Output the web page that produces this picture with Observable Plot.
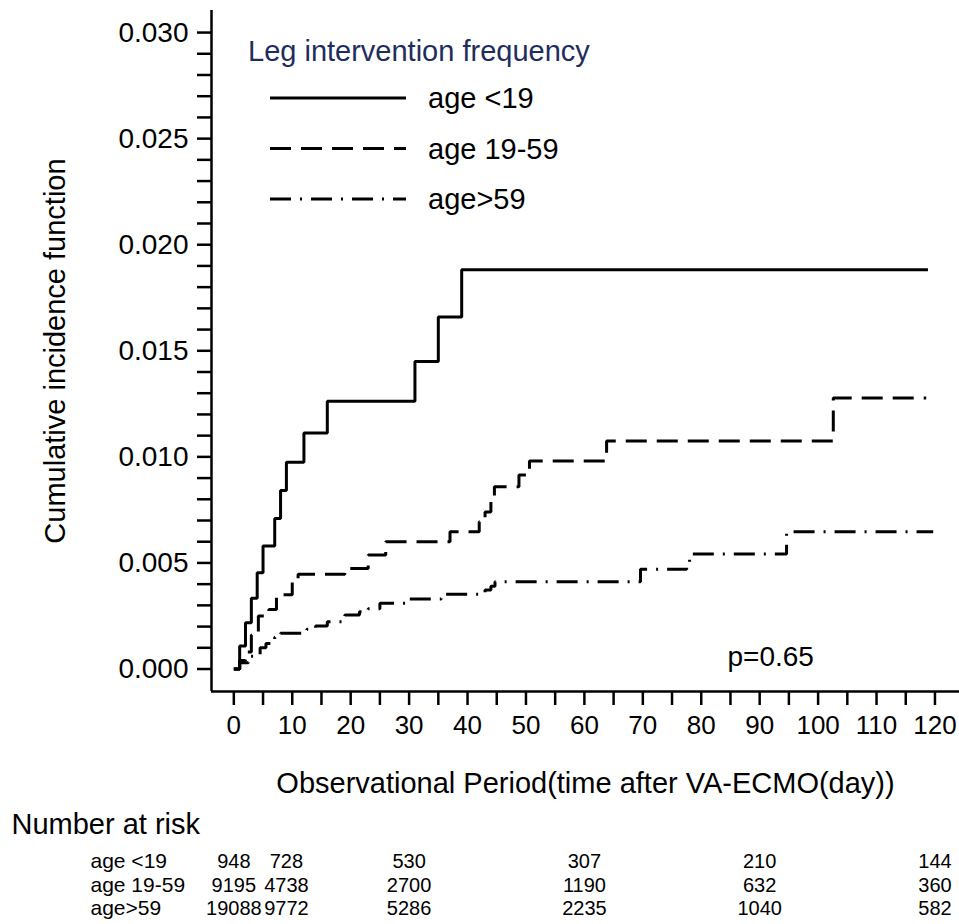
<!DOCTYPE html>
<html>
<head>
<meta charset="utf-8">
<script src="https://cdn.jsdelivr.net/npm/d3@7"></script>
<script src="https://cdn.jsdelivr.net/npm/@observablehq/plot@0.6"></script>
<style>
  html, body { margin: 0; padding: 0; background: #fff; }
  #chart { position: relative; width: 959px; height: 924px; }
</style>
</head>
<body>
<div id="chart"></div>
<script>
// ---------- data ----------
const groups = ["age <19", "age 19-59", "age>59"];

const timeLt19 = [0, 1, 2, 3, 4, 5, 7, 8, 9, 12, 16, 31, 35, 39, 118.8];
const cifLt19  = [0, 0.00108, 0.00218, 0.00333, 0.00454, 0.0058, 0.0071, 0.00842, 0.00975, 0.01113, 0.01262, 0.0145, 0.01659, 0.01882, 0.01882];

const time1959 = [0, 1, 2, 3, 4.2, 6, 7.3, 10, 11, 19, 23, 26, 37, 42, 43, 44, 44.6, 48.8, 50.6, 63.8, 102.6, 118.5];
const cif1959  = [0, 0.0004, 0.0008, 0.0016, 0.0025, 0.0028, 0.0035, 0.0041, 0.00447, 0.00474, 0.00537, 0.006, 0.00647, 0.00694, 0.0074, 0.008, 0.00859, 0.00914, 0.00981, 0.01075, 0.01278, 0.01278];

const timeGt59 = [0, 1, 2.5, 4.5, 5.5, 7, 8, 12.5, 14, 16, 19, 21.5, 23, 25, 29.7, 35.5, 43, 44, 44.7, 69.6, 77.5, 78, 94.6, 119.7];
const cifGt59  = [0, 0.0003, 0.0006, 0.001, 0.0012, 0.0015, 0.00168, 0.00187, 0.00203, 0.00223, 0.00255, 0.0027, 0.00284, 0.0031, 0.0033, 0.00352, 0.00372, 0.0039, 0.00411, 0.0047, 0.005, 0.00542, 0.00647, 0.00647];

const xTickLabels = [0, 10, 20, 30, 40, 50, 60, 70, 80, 90, 100, 110, 120];
const yTickLabels = [0, 0.005, 0.010, 0.015, 0.020, 0.025, 0.030];

const riskTimes = [0, 9, 30, 60, 90, 120];
const riskLt19  = [948, 728, 530, 307, 210, 144];
const risk1959  = [9195, 4738, 2700, 1190, 632, 360];
const riskGt59  = [19088, 9772, 5286, 2235, 1040, 582];

const legendTitle = "Leg intervention frequency";
const pText = "p=0.65";
const xTitle = "Observational Period(time after VA-ECMO(day))";
const yTitle = "Cumulative incidence function";
const riskTitle = "Number at risk";

// ---------- layout / style ----------
const xDomain = [-3.82, 124.2];
const yDomain = [-0.00106, 0.03104];
const marginLeft = 211, marginTop = 10, marginBottom = 233, H = 924, W = 959;
const frameBottom = H - marginBottom;
const dashes = [null, "21,10", "21,9,2,9"];
const series = [[timeLt19, cifLt19], [time1959, cif1959], [timeGt59, cifGt59]];
const riskRows = [riskLt19, risk1959, riskGt59];
const riskRowY = [861, 885, 908];

const xMinor = d3.range(0, 121, 5);
const yMinor = d3.range(0, 31).map(d => d / 1000);

const marks = [];
// axes
marks.push(Plot.axisX({ticks: xMinor, tickSize: 14, tickFormat: () => "", strokeWidth: 2.5, label: null}));
marks.push(Plot.axisX({ticks: xTickLabels, tickSize: 0, tickPadding: 24, fontSize: 26, label: null}));
marks.push(Plot.axisY({ticks: yMinor, tickSize: 14, tickFormat: () => "", strokeWidth: 2.5, label: null}));
marks.push(Plot.axisY({ticks: yTickLabels, tickSize: 0, tickPadding: 23, fontSize: 28, tickFormat: d3.format(".3f"), label: null}));
marks.push(Plot.ruleX([xDomain[0]], {stroke: "black", strokeWidth: 2.5}));
marks.push(Plot.ruleY([yDomain[0]], {stroke: "black", strokeWidth: 2.5}));

// curves
series.forEach(([t, v], i) => {
  marks.push(Plot.line(t, {x: t, y: v, curve: "step-after", stroke: "black", strokeWidth: 3,
    strokeDasharray: dashes[i] || undefined, strokeLinecap: "butt", strokeLinejoin: "miter"}));
});

// annotations
marks.push(Plot.text([pText], {text: d => d, frameAnchor: "bottom-left", dx: 516, dy: -34,
  textAnchor: "start", lineAnchor: "middle", fontSize: 28, fill: "black"}));
marks.push(Plot.text([xTitle], {text: d => d, frameAnchor: "bottom", dy: 92.5,
  textAnchor: "middle", lineAnchor: "middle", fontSize: 29, fill: "black"}));
marks.push(Plot.text([yTitle], {text: d => d, frameAnchor: "left", dx: -156, rotate: -90,
  textAnchor: "middle", lineAnchor: "middle", fontSize: 29, fill: "black"}));
marks.push(Plot.text([riskTitle], {text: d => d, frameAnchor: "bottom-left", dx: 11 - marginLeft, dy: 824 - frameBottom,
  textAnchor: "start", lineAnchor: "middle", fontSize: 29, fill: "black"}));

// risk table
riskRows.forEach((row, i) => {
  marks.push(Plot.text(riskTimes, {x: riskTimes, text: row.map(String), frameAnchor: "bottom", dy: riskRowY[i] - frameBottom,
    lineAnchor: "middle", textAnchor: "middle", fontSize: 20, fill: "black"}));
  marks.push(Plot.text([groups[i]], {text: d => d, frameAnchor: "bottom-left", dx: 90 - marginLeft, dy: riskRowY[i] - frameBottom,
    textAnchor: "start", lineAnchor: "middle", fontSize: 21, fill: "black"}));
});

const plot = Plot.plot({
  width: W, height: H,
  marginLeft, marginRight: 0, marginTop, marginBottom,
  x: {domain: xDomain},
  y: {domain: yDomain},
  style: {fontFamily: "Arial, 'Liberation Sans', sans-serif", color: "black", background: "white", overflow: "visible"},
  marks
});
document.getElementById("chart").appendChild(plot);

// legend (inside the plot area, top-left)
const svg = d3.select(plot);
const lg = svg.append("g").attr("font-family", "Arial, 'Liberation Sans', sans-serif").attr("text-anchor", "start");
lg.append("text").attr("x", 248).attr("y", 61).attr("font-size", 29).attr("fill", "#1f2d5c").attr("text-anchor", "start").text(legendTitle);
groups.forEach((g, i) => {
  const y = 98 + i * 50.5;
  lg.append("line").attr("x1", 270).attr("x2", 406).attr("y1", y).attr("y2", y)
    .attr("stroke", "black").attr("stroke-width", 3)
    .attr("stroke-dasharray", dashes[i] || null);
  lg.append("text").attr("x", 428).attr("y", y).attr("dy", "0.35em").attr("font-size", 29)
    .attr("fill", "black").attr("text-anchor", "start").text(g);
});
</script>
</body>
</html>
